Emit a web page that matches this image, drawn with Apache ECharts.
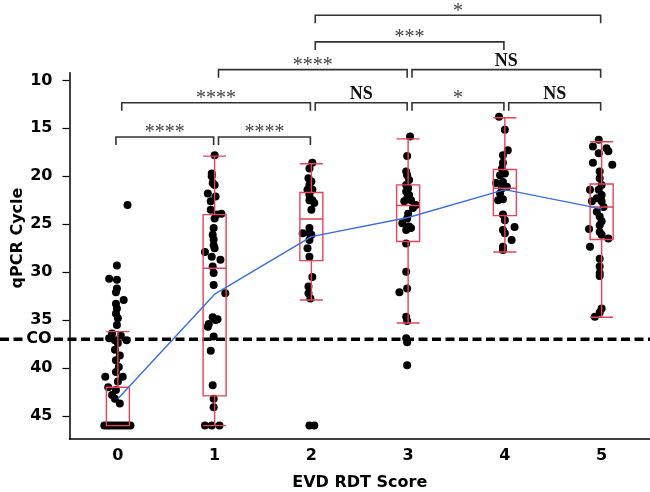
<!DOCTYPE html>
<html><head><meta charset="utf-8">
<script src="https://cdn.jsdelivr.net/npm/echarts@6/dist/echarts.min.js"></script>
<style>html,body{margin:0;padding:0;background:#fff}#c{width:650px;height:492px}</style>
</head><body><div id="c"></div>
<script>
// ---------------- data ----------------
const categories = ['0', '1', '2', '3', '4', '5'];
const yTickValues = [10, 15, 20, 25, 30, 35, 40, 45];
const cutoffValue = 37;
const cutoffLabel = 'CO';
const xAxisTitle = 'EVD RDT Score';
const yAxisTitle = 'qPCR Cycle';

// boxplot stats per score: [lower whisker, Q1, median, Q3, upper whisker] (cycle values)
const boxStats = [
  [36.2, 42.0, 46.0, 46.0, 46.0],
  [17.9, 24.0, 29.6, 42.9, 46.0],
  [18.7, 21.7, 24.45, 28.8, 32.9],
  [16.1, 20.9, 23.05, 26.8, 35.3],
  [13.9, 19.3, 21.25, 24.1, 27.9],
  [16.4, 20.8, 23.2, 26.6, 34.7]
];
// mean cycle per score (blue line)
const meanCycle = [43.2, 32.3, 26.3, 24.3, 21.4, 23.4];

// individual samples: [jitter (fraction of category), cycle]
const score0 = [[-0.01,29.3],[-0.09,30.7],[-0.01,30.8],[-0.01,31.7],[-0.02,32.1],[0.06,32.9],[-0.02,33.3],[-0.01,33.8],[-0.02,34.3],[0,34.8],[-0.01,35.5],[-0.06,36.4],[0.03,36.6],[-0.09,36.9],[-0.03,37.1],[0.09,37.1],[0,37.4],[-0.03,38.1],[0.02,38.7],[-0.02,39.2],[0.01,39.9],[-0.02,40.4],[-0.13,40.9],[0.05,40.9],[0,41.4],[-0.1,42.0],[-0.02,42.3],[-0.06,42.8],[-0.03,43.2],[0.02,43.7],[0.1,23.0],
  [-0.14,46],[-0.11,46],[-0.08,46],[-0.05,46],[-0.02,46],[0.01,46],[0.04,46],[0.07,46],[0.1,46],[0.13,46]];
const score1 = [[0,17.8],[-0.03,19.7],[-0.03,20.0],[-0.02,20.7],[0,20.9],[-0.07,21.8],[0.01,22.1],[-0.04,22.6],[-0.04,23.5],[0.02,24.0],[0,24.4],[0.07,23.9],[-0.01,25.4],[-0.02,26.1],[-0.01,26.6],[-0.01,27.2],[0,27.5],[-0.1,27.9],[-0.03,28.4],[0.06,28.7],[-0.02,29.4],[-0.01,30.1],[-0.01,31.35],[0.11,32.2],[-0.02,34.7],[0.01,35.0],[0.03,34.9],[-0.06,35.4],[-0.07,35.7],[-0.01,36.7],[-0.04,38.2],[-0.02,41.8],[-0.01,43.2],[-0.01,44.1],[-0.1,46],[-0.03,46],[0.05,46]];
const score2 = [[0.01,18.6],[-0.02,19.2],[-0.03,20.2],[0,20.55],[-0.02,20.9],[-0.04,21.4],[0.01,21.4],[-0.02,21.95],[-0.02,22.5],[0.01,22.5],[0.03,22.8],[0,23.5],[-0.02,25.4],[-0.09,25.95],[-0.02,25.95],[0,26.1],[-0.02,26.65],[-0.04,27.5],[-0.02,28.4],[0.01,30.5],[-0.03,31.5],[-0.03,32.2],[-0.01,32.75],[-0.02,46],[0.03,46]];
const score3 = [[0.02,15.85],[-0.01,17.9],[-0.02,19.5],[-0.01,19.9],[0.01,20.4],[-0.02,20.9],[0,21.25],[-0.02,21.6],[0.01,21.95],[-0.01,22.3],[-0.04,22.6],[0.03,22.5],[0.08,23.0],[0.05,23.3],[0,23.9],[-0.01,24.4],[-0.06,24.9],[0.01,25.25],[0.03,25.4],[-0.02,25.6],[-0.02,27.0],[-0.02,29.96],[-0.01,31.7],[-0.09,32.1],[-0.02,34.66],[-0.01,35.1],[-0.02,36.9],[-0.01,37.3],[-0.01,39.7]];
const score4 = [[-0.06,13.8],[0,15.15],[0.03,17.3],[-0.02,17.8],[-0.02,18.6],[-0.03,19.2],[0,19.7],[-0.05,19.9],[-0.02,20.6],[-0.09,20.7],[-0.03,21.25],[0.02,21.1],[-0.05,21.8],[-0.07,22.5],[-0.02,22.4],[-0.02,24.0],[0,24.6],[0.1,25.3],[-0.02,25.6],[0,25.95],[0.07,26.65],[-0.02,27.35],[-0.02,27.7]];
const score5 = [[-0.03,16.2],[-0.09,16.9],[0.05,17.07],[-0.03,17.6],[0.07,17.4],[-0.09,18.6],[0.11,18.8],[-0.02,19.5],[-0.02,20.2],[0,20.9],[-0.12,21.4],[-0.03,21.4],[0,21.95],[-0.05,22.3],[-0.1,22.6],[0,22.6],[0.02,23.2],[-0.05,23.7],[-0.02,24.2],[0,24.7],[-0.02,25.1],[-0.13,25.5],[-0.02,25.8],[0,26.1],[0.07,26.5],[-0.12,27.35],[-0.02,28.6],[-0.02,29.4],[-0.02,30.1],[-0.02,30.4],[0,33.8],[-0.02,34.2],[-0.07,34.66]];
const samplesByScore = [score0, score1, score2, score3, score4, score5];

// significance comparisons
const bracketFrom  = [0, 1, 0, 2, 3, 4, 1, 3, 2, 2];
const bracketTo    = [1, 2, 2, 3, 4, 5, 3, 5, 4, 5];
const bracketTier  = [1, 1, 2, 2, 2, 2, 3, 3, 4, 5];
const bracketLabel = ['****', '****', '****', 'NS', '*', 'NS', '****', 'NS', '***', '*'];

// ---------------- chart ----------------
const chart = echarts.init(document.getElementById('c'), null, {renderer: 'canvas'});
const FONT = 'DejaVu Sans';
const RED = '#e8415a';
const tierY = {1: 15.9, 2: 12.33, 3: 8.88, 4: 5.99, 5: 3.21};

const scatterData = [];
samplesByScore.forEach((arr, i) => arr.forEach(p => scatterData.push([i + p[0], p[1]])));

const option = {
  animation: false,
  backgroundColor: '#fff',
  grid: {left: 69.5, right: 0, top: 72.7, bottom: 53, containLabel: false, outerBoundsMode: 'none'},
  xAxis: [{
    type: 'category', data: categories,
    axisLine: {onZero: false, lineStyle: {color: '#000', width: 1.5}},
    axisTick: {length: 5, lineStyle: {color: '#000', width: 1.2}},
    axisLabel: {color: '#000', fontFamily: FONT, fontWeight: 'bold', fontSize: 16, margin: 9},
    splitLine: {show: false},
    name: xAxisTitle, nameLocation: 'middle', nameGap: 36,
    nameTextStyle: {color: '#000', fontFamily: FONT, fontWeight: 'bold', fontSize: 16}
  }, {
    type: 'value', min: -0.5, max: 5.5, show: false
  }],
  yAxis: {
    type: 'value', inverse: true, min: 9.2, max: 47.4,
    axisLine: {show: true, onZero: false, lineStyle: {color: '#000', width: 1.5}},
    axisTick: {show: true, length: 7, customValues: yTickValues, lineStyle: {color: '#000', width: 1.2}},
    axisLabel: {
      customValues: yTickValues.concat([cutoffValue]),
      formatter: v => (v === cutoffValue ? '{co|' + cutoffLabel + '}' : String(v)),
      rich: {co: {fontFamily: FONT, fontWeight: 'bold', fontSize: 16, color: '#000', backgroundColor: '#fff', padding: [1, 1, 1, 2]}},
      color: '#000', fontFamily: FONT, fontWeight: 'bold', fontSize: 16, margin: 17
    },
    z: 20,
    splitLine: {show: false}
  },
  series: [
    {
      type: 'scatter', xAxisIndex: 1, data: scatterData, symbolSize: 8,
      itemStyle: {color: '#000', opacity: 1}, z: 2
    },
    {
      type: 'boxplot', xAxisIndex: 0, data: boxStats, boxWidth: [23, 23],
      itemStyle: {color: 'rgba(0,0,0,0)', borderColor: RED, borderWidth: 1.4}, z: 3
    },
    {
      type: 'line', xAxisIndex: 1, data: meanCycle.map((v, i) => [i, v]),
      symbol: 'none', lineStyle: {color: '#3a6ee0', width: 1.4}, z: 4
    },
    {
      type: 'custom', xAxisIndex: 1, clip: false, z: 5,
      data: bracketFrom.map((f, i) => [f, bracketTo[i], bracketTier[i]]),
      renderItem: (params, api) => {
        const i = params.dataIndex;
        const f = bracketFrom[i], t = bracketTo[i];
        const yv = tierY[bracketTier[i]];
        const l = api.coord([f + (f === 0 && t === 1 ? -0.02 : 0.04), yv]);
        const r = api.coord([t - 0.01, yv]);
        const y = l[1];
        const lab = bracketLabel[i];
        const isNS = lab === 'NS';
        return {
          type: 'group',
          children: [
            {type: 'polyline', shape: {points: [[l[0], y + 8], [l[0], y], [r[0], y], [r[0], y + 8]]},
             style: {stroke: '#333', lineWidth: 1.6, fill: null}},
            {type: 'text', style: {
              text: lab, x: (l[0] + r[0]) / 2, y: isNS ? y - 8 : y - 4,
              align: 'center', verticalAlign: 'middle', textAlign: 'center', textVerticalAlign: 'middle',
              font: isNS ? 'bold 18px "Liberation Serif"' : '20px "Liberation Serif"',
              fill: isNS ? '#111' : '#444'
            }}
          ]
        };
      }
    }
  ]
};
chart.setOption(option);

const coY = chart.convertToPixel({yAxisIndex: 0}, cutoffValue);
chart.setOption({
  graphic: [
    {type: 'line', shape: {x1: 0, y1: coY, x2: chart.getWidth(), y2: coY},
     style: {stroke: '#000', lineWidth: 3.5, lineDash: [9, 4.5]}, z: 1, zlevel: 0},
    {type: 'text', x: 18, y: 238, rotation: Math.PI / 2,
     style: {text: yAxisTitle, font: 'bold 16px "DejaVu Sans"', fill: '#000', align: 'center', verticalAlign: 'middle'}}
  ]
});
</script>
</body></html>
